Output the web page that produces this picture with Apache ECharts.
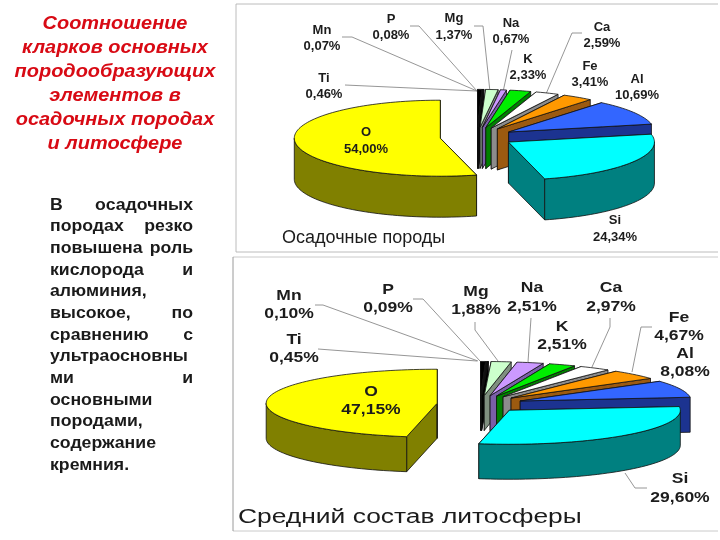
<!DOCTYPE html>
<html><head><meta charset="utf-8">
<style>html,body{margin:0;padding:0;background:#fff}#c{width:720px;height:540px;filter:blur(0.3px)}</style>
<script src="https://cdn.jsdelivr.net/npm/echarts@6/dist/echarts.min.js"></script>
</head><body><div id="c"></div>
<script>
const elements = ['Ti','Mn','P','Mg','Na','K','Ca','Fe','Al','Si','O'];
const sedimentary = [0.46,0.07,0.08,1.37,0.67,2.33,2.59,3.41,10.69,24.34,54.00];
const lithosphere = [0.45,0.10,0.09,1.88,2.51,2.51,2.97,4.67,8.08,29.60,47.15];
const topColors  = ['#000000','#1a1a1a','#000000','#ccffcc','#cc99ff','#00ee00','#ffffff','#ff9900','#3366ff','#00ffff','#ffff00'];
const wallColors = ['#000000','#555555','#000000','#7f8f7f','#7a5fa8','#008000','#8c8c8c','#9c5a10','#1c3390','#008080','#808000'];
const sedTitle = 'Осадочные породы';
const litTitle = 'Средний состав литосферы';
const headingLines = ['Соотношение','кларков основных','породообразующих','элементов в','осадочных породах','и литосфере'];
const bodyLines = ['В осадочных','породах резко','повышена роль','кислорода и','алюминия,','высокое, по','сравнению с','ультраосновны','ми и','основными','породами,','содержание','кремния.'];

const sedGeo = {cx:477, cy:137, rx:146, ry:38, depth:41, explode:37};
const litGeo = {cx:480, cy:404, rx:171, ry:34, depth:35, explode:43};

function pieSeries(values, g){
  const total = values.reduce((a,b)=>a+b,0);
  let run = 0;
  const spans = values.map(v=>{const s=[run/total*360,(run+v)/total*360];run+=v;return s;});
  const rad = d=>d*Math.PI/180;
  return {
    type:'custom', coordinateSystem:'none', silent:true, clip:false, animation:false, z:5,
    data: values.map((v,i)=>({name:elements[i],value:[v]})),
    renderItem(params){
      const i = params.dataIndex, [a0,a1] = spans[i], mid = (a0+a1)/2;
      const ax = g.cx + g.explode*Math.sin(rad(mid));
      const ay = g.cy - g.explode*(g.ry/g.rx)*Math.cos(rad(mid));
      const rim = a=>[ax+g.rx*Math.sin(rad(a)), ay-g.ry*Math.cos(rad(a))];
      const down = p=>[p[0],p[1]+g.depth];
      const arc = (s,e)=>{const n=Math.max(2,Math.ceil((e-s)/2)),o=[];for(let k=0;k<=n;k++)o.push(rim(s+(e-s)*k/n));return o;};
      const apex=[ax,ay];
      const poly=(pts,fill)=>({type:'polygon',shape:{points:pts},style:{fill,stroke:'#111',lineWidth:0.8,lineJoin:'round'}});
      const wall=wallColors[i], kids=[];
      kids.push(poly([apex,rim(a0),down(rim(a0)),down(apex)],wall));
      kids.push(poly([apex,rim(a1),down(rim(a1)),down(apex)],wall));
      const s=Math.max(a0,90), e=Math.min(a1,270);
      if(e>s){const t=arc(s,e);kids.push(poly(t.concat(t.map(down).reverse()),wall));}
      kids.push(poly([apex].concat(arc(a0,a1)),topColors[i]));
      return {type:'group',children:kids};
    }
  };
}
const pct = v=>v.toFixed(2).replace('.',',')+'%';
const sedLabelPos = {Ti:[324,86.5],Mn:[322,38.5],P:[391,27.5],Mg:[454,27],Na:[511,31.5],K:[528,67.5],Ca:[602,35.5],Fe:[590,74.5],Al:[637,87.5],O:[366,141],Si:[615,229]};
const litLabelPos = {Ti:[294,349],Mn:[289,305],P:[388,299],Mg:[476,301],Na:[532,297.5],K:[562,336],Ca:[611,297.5],Fe:[679,327],Al:[685,363],O:[371,401],Si:[680,488.5]};
const sedLeaders = [[[345,85],[477,91]],[[342,37],[352,37],[477,91]],[[410,26],[419,26],[477,91]],[[474,26],[483,26],[490,92]],[[512,50],[503,92]],[[582,33],[572,33],[546,94]]];
const litLeaders = [[[318,349],[477,361]],[[315,305],[323,305],[478,361]],[[413,299],[423,299],[480,361]],[[475,322],[475,330],[498,361]],[[531,318],[528,362]],[[610,318],[610,327],[592,367]],[[652,327],[641,327],[632,372]],[[625,473],[635,488],[647,488]]];

const g=[];
const txt=(text,x,y,font,fill,align,scaleX,lh)=>g.push({type:'text',x,y,scaleX:scaleX||1,z:20,silent:true,
  style:{text,font,fill,align:align||'center',verticalAlign:'middle',lineHeight:lh}});
const line=(pts,stroke)=>g.push({type:'polyline',z:1,silent:true,shape:{points:pts},style:{fill:'none',stroke:stroke||'#8a8a8a',lineWidth:0.9}});

// frames
line([[718,4],[236,4],[236,252],[718,252]],'#b4b4b4');
line([[718,257],[233,257]],'#c4c4c4');
line([[718,531],[233,531]],'#c4c4c4');
line([[233,257],[233,531]],'#8f8f8f');
sedLeaders.forEach(p=>line(p));
litLeaders.forEach(p=>line(p));

elements.forEach((n,i)=>{
  const a=sedLabelPos[n], b=litLabelPos[n];
  txt(n+'\n'+pct(sedimentary[i]),a[0],a[1],'bold 13px "Liberation Sans"','#1c1c1c','center',1,16.5);
  txt(n+'\n'+pct(lithosphere[i]),b[0],b[1],'bold 14px "Liberation Sans"','#1c1c1c','center',1.25,18.5);
});
txt(sedTitle,282,238,'18px "Liberation Sans"','#1c1c1c','left',1.0);
txt(litTitle,238,517,'20px "Liberation Sans"','#1c1c1c','left',1.32);
headingLines.forEach((t,i)=>txt(t,115,23.5+i*24.1,'italic bold 19px "Liberation Sans"','#d80a14','center',1.05));
bodyLines.forEach((t,i)=>{
  const y=205+i*21.67, w=t.split(' ');
  txt(w[0],50,y,'bold 17px "Liberation Sans"','#1a1a1a','left',1.04);
  if(w[1]) txt(w[1],193,y,'bold 17px "Liberation Sans"','#1a1a1a','right',1.04);
});

const chart=echarts.init(document.getElementById('c'),null,{renderer:'canvas'});
chart.setOption({animation:false,backgroundColor:'#fff',graphic:{elements:g},
  series:[pieSeries(sedimentary,sedGeo),pieSeries(lithosphere,litGeo)]});
</script></body></html>
